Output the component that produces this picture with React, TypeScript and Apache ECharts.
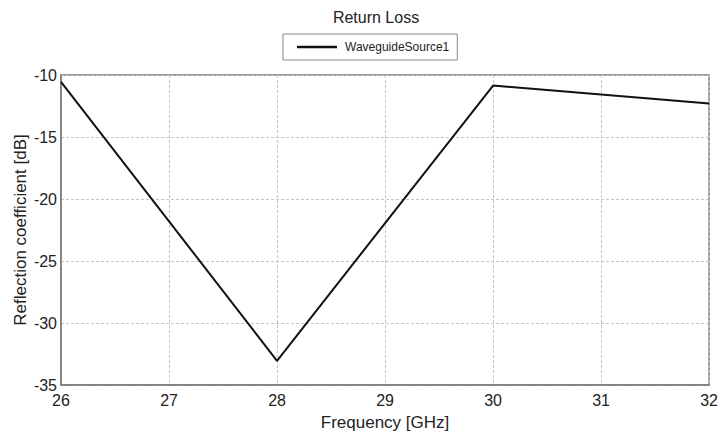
import React, { useEffect, useRef } from "react";
import * as echarts from "echarts";

const frequencies = [26, 28, 30, 32];
const reflection = [-10.55, -33.05, -10.85, -12.3];
const seriesName = "WaveguideSource1";
const chartTitle = "Return Loss";
const xName = "Frequency [GHz]";
const yName = "Reflection coefficient [dB]";

export default function App() {
  const ref = useRef<HTMLDivElement>(null);
  useEffect(() => {
    if (!ref.current) return;
    const chart = echarts.init(ref.current, null, { renderer: "svg" });
    const font = "'Liberation Sans', Arial, sans-serif";
    chart.setOption({
      animation: false,
      backgroundColor: "#ffffff",
      textStyle: { fontFamily: font },
      title: {
        text: chartTitle,
        left: 371,
        textAlign: "center",
        top: 4,
        textStyle: { fontSize: 16, fontWeight: "normal", color: "#222", fontFamily: font },
      },
      legend: {
        left: 283,
        top: 34,
        borderColor: "#888",
        borderWidth: 1,
        padding: [7, 8, 7, 14],
        itemWidth: 40,
        itemHeight: 2.5,
        itemGap: 10,
        icon: "rect",
        textStyle: { fontSize: 12, color: "#222", fontFamily: font, padding: [0, 0, 0, 3] },
        data: [seriesName],
      },
      grid: {
        left: 61,
        right: 11,
        top: 75,
        bottom: 51,
        show: true,
        borderColor: "#7a7a7a",
        borderWidth: 1.5,
        containLabel: false,
      },
      xAxis: {
        type: "value",
        min: 26,
        max: 32,
        interval: 1,
        name: xName,
        nameLocation: "middle",
        nameGap: 29,
        nameMoveOverlap: false,
        nameTextStyle: { fontSize: 17, color: "#222", fontFamily: font },
        axisLine: { show: true, lineStyle: { color: "#7a7a7a", width: 1.5 } },
        axisTick: { show: false },
        axisLabel: { fontSize: 16, color: "#222", margin: 7, fontFamily: font },
        splitLine: { show: true, lineStyle: { type: [3, 2], color: "#c4c4c4", width: 1 } },
      },
      yAxis: {
        type: "value",
        min: -35,
        max: -10,
        interval: 5,
        name: yName,
        nameLocation: "middle",
        nameGap: 32,
        nameMoveOverlap: false,
        nameTextStyle: { fontSize: 17, color: "#222", fontFamily: font },
        axisLine: { show: true, lineStyle: { color: "#7a7a7a", width: 1.5 } },
        axisTick: { show: false },
        axisLabel: { fontSize: 16, color: "#222", margin: 4, fontFamily: font },
        splitLine: { show: true, lineStyle: { type: [3, 2], color: "#c4c4c4", width: 1 } },
      },
      series: [
        {
          name: seriesName,
          type: "line",
          data: frequencies.map((f, i) => [f, reflection[i]]),
          showSymbol: false,
          symbol: "none",
          lineStyle: { color: "#111", width: 2 },
          itemStyle: { color: "#111" },
        },
      ],
    });
    return () => chart.dispose();
  }, []);
  return <div ref={ref} style={{ width: 721, height: 436, position: "absolute", left: 0, top: 0 }} />;
}
